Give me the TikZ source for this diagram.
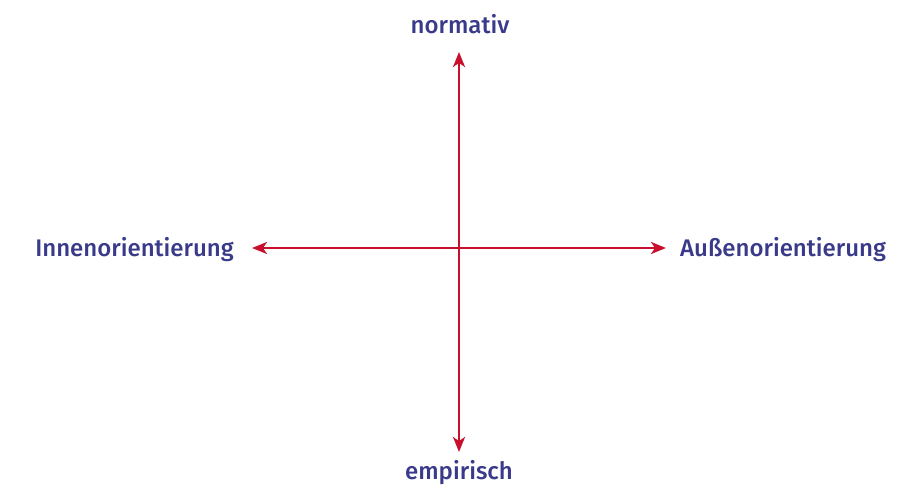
\documentclass[tikz,border=0pt]{standalone}
\usepackage{fontspec}
\setmainfont{Fira Sans}[BoldFont={Fira Sans Medium}]
\usetikzlibrary{arrows.meta}
\definecolor{axisred}{HTML}{C8102E}
\definecolor{labelblue}{HTML}{3A3A8A}
\begin{document}
\begin{tikzpicture}[x=1pt,y=1pt,
  axis/.style={draw=axisred,line width=2.2pt,{Stealth[length=15pt,width=12pt,inset=4pt]}-{Stealth[length=15pt,width=12pt,inset=4pt]}},
  lbl/.style={text=labelblue,font=\fontsize{24}{28}\selectfont\bfseries,inner sep=0pt}]
\useasboundingbox (0,0) rectangle (923,485);
\node[lbl] (top) at (460,461) {normativ};
\node[lbl] (bot) at (459,12) {empirisch};
\node[lbl,anchor=east] (left) at (234,235) {Innenorientierung};
\node[lbl,anchor=west] (right) at (680,235) {Außenorientierung};
\coordinate (n) at (459,433);
\coordinate (s) at (459,33);
\coordinate (w) at (252,237);
\coordinate (e) at (666,237);
\draw[axis] (s) -- (n);
\draw[axis] (w) -- (e);
\end{tikzpicture}
\end{document}
